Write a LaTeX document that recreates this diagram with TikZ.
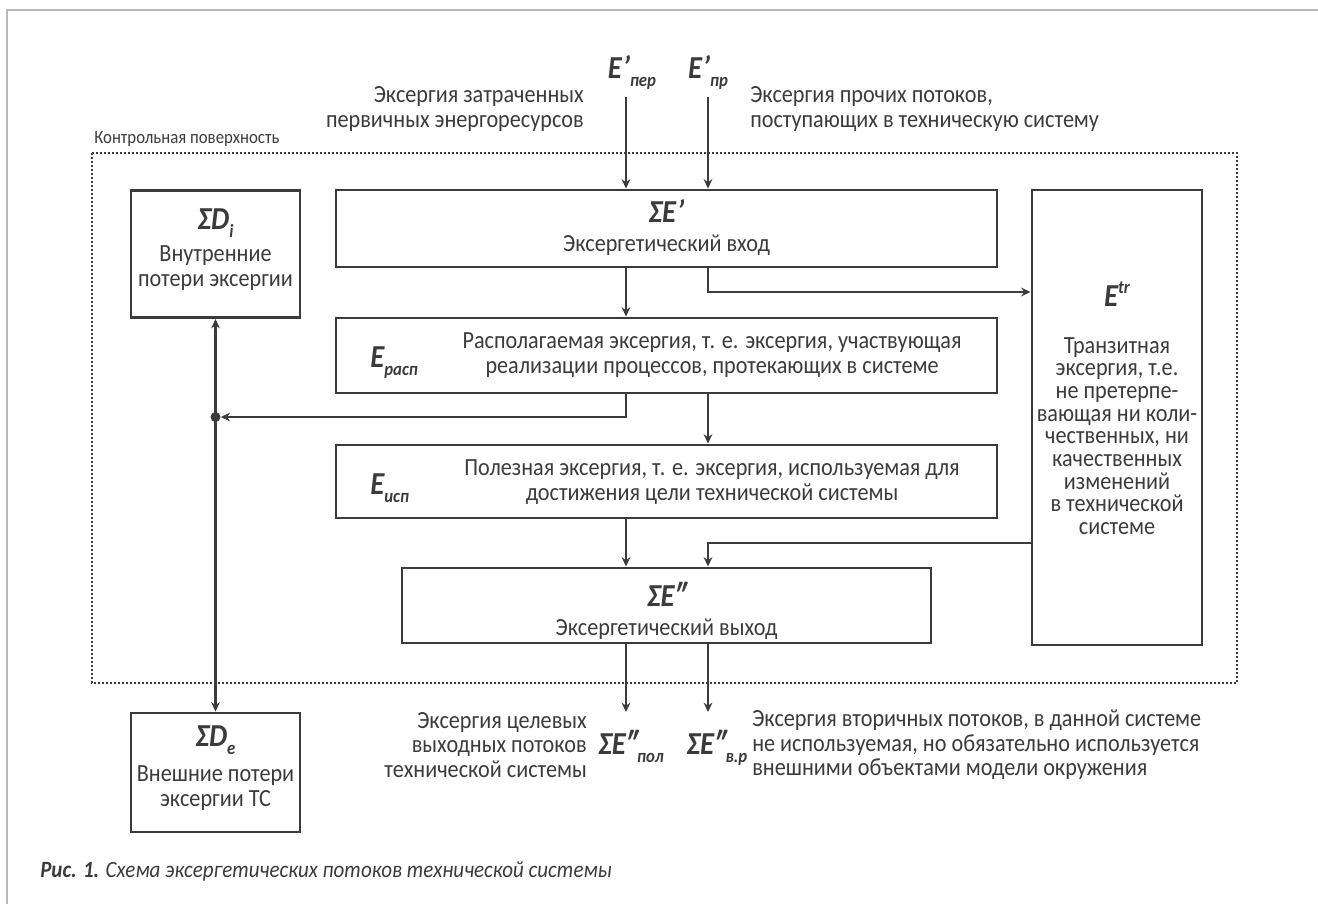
\documentclass[tikz,border=0pt]{standalone}
\usepackage{fontspec}
\setmainfont{Carlito}[FakeStretch=0.9]
\usetikzlibrary{arrows.meta}
\usetikzlibrary{positioning}

\definecolor{ink}{HTML}{3B3B3B}
\newcommand{\esub}[1]{\raisebox{-0.55ex}{\fontsize{14}{14}\selectfont #1}}
\newcommand{\esup}[1]{\raisebox{0.8ex}{\fontsize{14}{14}\selectfont #1}}
\newcommand{\prm}{\kern0.5pt\symbol{39}}

\tikzset{
    blk/.style={draw=ink, line width=2.2pt, inner sep=0pt},
    flow/.style={draw=ink, line width=1.9pt, -{Stealth[length=7pt,width=6.5pt]}},
    flowboth/.style={draw=ink, line width=1.9pt, {Stealth[length=7pt,width=6.5pt]}-{Stealth[length=7pt,width=6.5pt]}},
    txt/.style={text=ink, font=\fontsize{18.5}{18.5}\selectfont, align=center, inner sep=0pt},
    sym/.style={text=ink, font=\fontsize{24}{24}\selectfont\bfseries\itshape, inner sep=0pt, anchor=base},
}

\begin{document}
\begin{tikzpicture}[x=0.75pt, y=-0.75pt]
    \useasboundingbox (0,0) rectangle (1318,904);
    \draw[gray!55, line width=0.8pt] (7,904) -- (7,10) -- (1318,10);

    \draw[ink, line width=1.5pt, dash pattern=on 1.5pt off 1.5pt] (92,153) rectangle (1237,683);
    \node[text=ink, font=\fontsize{14}{14}\selectfont, anchor=base west, inner sep=0pt] (ctl) at (94,143) {Контрольная поверхность};

    \node[blk, minimum width=126.75pt, minimum height=95.25pt] (Di) at (215.5,254) {};
    \node[blk, minimum width=495.75pt, minimum height=57.75pt] (Ein) at (666.5,228.5) {};
    \node[blk, minimum width=127.5pt, minimum height=341.25pt] (Etr) at (1117,417.5) {};
    \node[blk, minimum width=495.75pt, minimum height=56.25pt] (Erasp) at (666.5,355.5) {};
    \node[blk, minimum width=495.75pt, minimum height=54.75pt] (Eisp) at (666.5,481.5) {};
    \node[blk, minimum width=396.75pt, minimum height=56.25pt] (Eout) at (666.5,605.5) {};
    \node[blk, minimum width=126.75pt, minimum height=89.25pt] (De) at (215.5,772.5) {};

    \node[sym] (DiS) at (215.5,229) {ΣD\esub{i}};
    \node[txt] (DiT) at (215.5,268) {Внутренние\\потери эксергии};
    \node[sym] (EinS) at (666.5,222) {ΣE\prm};
    \node[txt] (EinT) at (666.5,245) {Эксергетический вход};
    \node[sym, anchor=base west] (EraspS) at (370,367) {E\esub{расп}};
    \node[txt] (EraspT) at (712,355) {Располагаемая эксергия, т. е. эксергия, участвующая\\реализации процессов, протекающих в системе};
    \node[sym, anchor=base west] (EispS) at (370,494) {E\esub{исп}};
    \node[txt] (EispT) at (712,482) {Полезная эксергия, т. е. эксергия, используемая для\\достижения цели технической системы};
    \node[sym] (EtrS) at (1117,306) {E\esup{tr}};
    \node[txt, font=\fontsize{18.5}{17}\selectfont] (EtrT) at (1117,436) {Транзитная\\эксергия, т.е.\\не претерпе-\\вающая ни коли-\\чественных, ни\\качественных\\изменений\\в технической\\системе};
    \node[sym] (EoutS) at (666.5,606) {ΣE″};
    \node[txt] (EoutT) at (666.5,629) {Эксергетический выход};
    \node[sym] (DeS) at (215.5,746) {ΣD\esub{e}};
    \node[txt] (DeT) at (215.5,788) {Внешние потери\\эксергии ТС};

    \coordinate (inper) at (626,97);
    \coordinate (inpr) at (708,97);
    \coordinate (outpol) at (626,712);
    \coordinate (outvr) at (708,712);
    \node[circle, fill=ink, inner sep=0pt, minimum size=7.5pt] (jn) at (Di.south |- 0,417) {};

    \node[sym] (EperS) at (632,78) {E\prm\esub{пер}};
    \node[sym] (EprS) at (708,78) {E\prm\esub{пр}};
    \node[txt, align=right, anchor=east] (inL) at (584,109) {Эксергия затраченных\\первичных энергоресурсов};
    \node[txt, align=left, anchor=west] (inR) at (750,109) {Эксергия прочих потоков,\\поступающих в техническую систему};
    \node[sym] (polS) at (631,754) {ΣE″\esub{пол}};
    \node[sym] (vrS) at (717,754) {ΣE″\esub{в.р}};
    \node[txt, align=right, anchor=east] (outL) at (587,745) {Эксергия целевых\\выходных потоков\\технической системы};
    \node[txt, align=left, anchor=west] (outR) at (752,745) {Эксергия вторичных потоков, в данной системе\\не используемая, но обязательно используется\\внешними объектами модели окружения};

    \draw[flow] (inper) -- (inper |- Ein.north);
    \draw[flow] (inpr) -- (inpr |- Ein.north);
    \draw[flow] (Ein.south -| inper) -- (Erasp.north -| inper);
    \draw[flow] (Ein.south -| inpr) |- (Etr.west |- 0,292);
    \draw[flow] (Erasp.south -| inpr) -- (Eisp.north -| inpr);
    \draw[flow] (Erasp.south -| inper) |- (jn.east);
    \draw[flow] (Eisp.south -| inper) -- (Eout.north -| inper);
    \draw[flow] (Etr.west |- 0,543) -| (Eout.north -| inpr);
    \draw[flow] (Eout.south -| inper) -- (outpol);
    \draw[flow] (Eout.south -| inpr) -- (outvr);
    \draw[flowboth] (Di.south) -- (De.north);

    \node[text=ink, font=\fontsize{17.5}{18}\selectfont\itshape, anchor=base west, inner sep=0pt] (cap) at (40,877) {\textbf{Рис. 1.} Схема эксергетических потоков технической системы};
\end{tikzpicture}
\end{document}
